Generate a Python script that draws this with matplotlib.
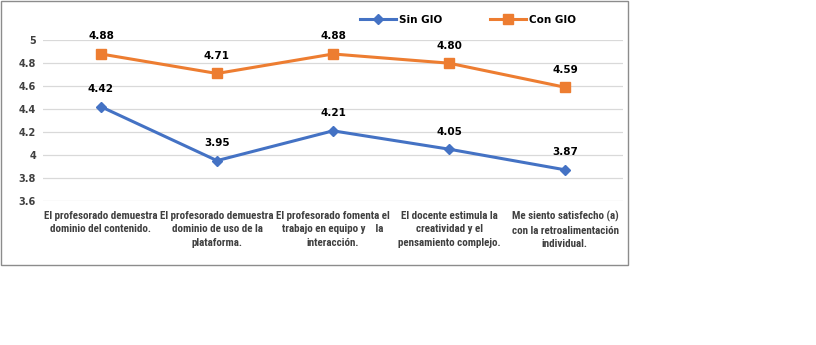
import matplotlib
matplotlib.use("Agg")
import matplotlib.pyplot as plt
from matplotlib.patches import Rectangle
from matplotlib import font_manager

categories = [
    "El profesorado demuestra\ndominio del contenido.",
    "El profesorado demuestra\ndominio de uso de la\nplataforma.",
    "El profesorado fomenta el\ntrabajo en equipo y    la\ninteracción.",
    "El docente estimula la\ncreatividad y el\npensamiento complejo.",
    "Me siento satisfecho (a)\ncon la retroalimentación\nindividual.",
]
sin_gio = [4.42, 3.95, 4.21, 4.05, 3.87]
con_gio = [4.88, 4.71, 4.88, 4.80, 4.59]
yticks = [3.6, 3.8, 4, 4.2, 4.4, 4.6, 4.8, 5]

blue = "#4472C4"
orange = "#ED7D31"

names = {f.name for f in font_manager.fontManager.ttflist}
narrow = "DejaVu Sans"
for cand in ["Liberation Sans Narrow", "DejaVu Sans Condensed", "Roboto Condensed", "Open Sans Condensed"]:
    if cand in names:
        narrow = cand
        break
label_size = 7.9 if narrow != "DejaVu Sans" else 5.9

fig = plt.figure(figsize=(8.16, 3.45), dpi=100)
fig.patches.append(Rectangle((1 / 816, 1 - 265 / 345), 627 / 816, 264 / 345,
                             transform=fig.transFigure, fill=False,
                             edgecolor="#8C8C8C", linewidth=1))

ax = fig.add_axes([43 / 816, 1 - 201 / 345, 580 / 816, 161 / 345])
x = range(len(categories))
ax.plot(x, sin_gio, color=blue, lw=2.2, marker="D", ms=5, label="Sin GIO", zorder=3)
ax.plot(x, con_gio, color=orange, lw=2.2, marker="s", ms=7, label="Con GIO", zorder=3)

for i, v in enumerate(sin_gio):
    ax.annotate(f"{v:.2f}", (i, v), xytext=(0, 9), textcoords="offset points",
                ha="center", va="bottom", fontsize=7.5, fontweight="bold")
for i, v in enumerate(con_gio):
    ax.annotate(f"{v:.2f}", (i, v), xytext=(0, 9), textcoords="offset points",
                ha="center", va="bottom", fontsize=7.5, fontweight="bold")

ax.set_xlim(-0.5, len(categories) - 0.5)
ax.set_ylim(3.598, 5.002)
ax.set_yticks(yticks)
ax.set_yticklabels([f"{t:g}" for t in yticks], fontsize=7, fontweight="bold", color="#404040")
ax.set_xticks(list(x))
ax.set_xticklabels(categories, fontsize=label_size, fontweight="bold", color="#404040",
                   linespacing=1.45, family=narrow)
ax.tick_params(length=0, pad=7)
ax.tick_params(axis="y", pad=5)
ax.grid(axis="y", color="#D9D9D9", lw=0.9)
ax.set_axisbelow(True)
for s in ax.spines.values():
    s.set_visible(False)

fig.legend(loc="center", bbox_to_anchor=(468 / 816, 1 - 20 / 345), ncol=2,
           frameon=False, prop={"weight": "bold", "size": 7.5},
           handlelength=3.5, columnspacing=4.5, handletextpad=0.3)

fig.savefig("out.png", dpi=100)
